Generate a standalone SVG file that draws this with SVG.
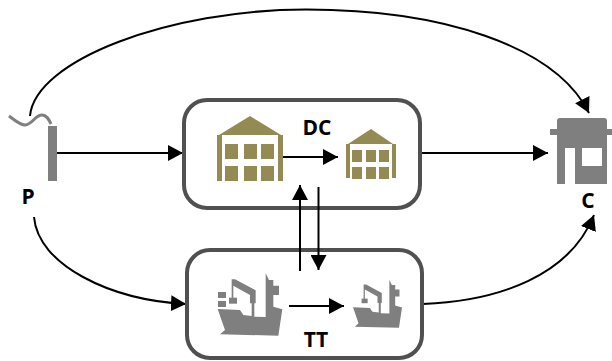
<svg xmlns="http://www.w3.org/2000/svg" width="612" height="361" viewBox="0 0 612 361">
<style>
.box{fill:#fff;stroke:#505050;stroke-width:4}
.gold{fill:#948a54}
.grey{fill:#7f7f7f}
.conn{fill:none;stroke:#000;stroke-width:2}
.lbl{font-family:"Open Sans","DejaVu Sans",sans-serif;font-weight:700;font-size:21px;fill:#000;text-anchor:middle}
</style>
<defs>
<marker id="ah" markerUnits="userSpaceOnUse" markerWidth="16" markerHeight="16" refX="15" refY="8" orient="auto"><path d="M0 0L15 8L0 16Z" fill="#000"/></marker>
<g id="ship">
<path class="grey" d="M38 132L105 135L115 150L140 153V115H135V90L85 62V100H80V43L90 43L152 76V115H148V155L182 156V25L192 45H205V62H222V90H205V125L232 133L220 212L45 208L60 195Z"/>
<rect class="grey" x="72" y="98" width="24" height="18"/>
</g>
</defs>
<g id="connectors">
<path class="conn" d="M30 116C35 60 170 9.500 306 9.500C440 9.500 555 45 589 113" marker-end="url(#ah)"/>
<path class="conn" d="M57 153H183" marker-end="url(#ah)"/>
<path class="conn" d="M34 217C38 265 110 300 186 304" marker-end="url(#ah)"/>
<path class="conn" d="M420 153H548" marker-end="url(#ah)"/>
<path class="conn" d="M423 304C500 301 570 275 594 215" marker-end="url(#ah)"/>
</g>
<g id="P">
<path d="M9 116C16 121 20 125 25 125C32 125 35 115 42 115C47 115 49 120 51 124" fill="none" stroke="#7f7f7f" stroke-width="3"/>
<rect class="grey" x="48" y="126" width="9" height="55"/>
<text class="lbl" x="28" y="204">P</text>
</g>
<g id="DC">
<rect class="box" x="184" y="100" width="236" height="108" rx="23"/>
<path class="gold" d="M250 116L281 135H283V181H278V135H222V181H217V135H219Z"/>
<path class="gold" d="M225 144h13v15h-13zM244 144h13v15h-13zM261 144h13v15h-13zM225 166h13v15h-13zM244 166h13v15h-13zM261 166h13v15h-13z"/>
<path class="gold" d="M371 129L393 144H396V178H392V144H350V178H346V144H348Z"/>
<path class="gold" d="M352 150h10v12h-10zM366 150h10v12h-10zM379 150h10v12h-10zM352 167h10v12h-10zM366 167h10v12h-10zM379 167h10v12h-10z"/>
<path class="conn" d="M283 157H338" marker-end="url(#ah)"/>
<text class="lbl" x="317" y="135">DC</text>
</g>
<g id="TT">
<rect class="box" x="187" y="250" width="235" height="108" rx="23"/>
<use href="#ship" transform="translate(205 265) scale(.3333)"/>
<rect class="grey" x="218" y="292" width="8" height="6"/>
<rect class="grey" x="218" y="301" width="8" height="6"/>
<use href="#ship" transform="translate(343.400 273.600) scale(.2526 .255)"/>
<path class="conn" d="M289 306H344" marker-end="url(#ah)"/>
<text class="lbl" x="316" y="347">TT</text>
</g>
<g id="C">
<path class="grey" d="M560 118H604Q607 118 607 121V129H612V135H607V184H557V135H550V129H557V121Q557 118 560 118Z"/>
<rect x="565" y="148" width="10" height="36" fill="#fff"/>
<rect x="582" y="148" width="20" height="18" fill="#fff"/>
<text class="lbl" x="588" y="208">C</text>
</g>
<g id="vertical-connectors">
<path class="conn" d="M300 271V185" marker-end="url(#ah)"/>
<path class="conn" d="M318.500 187V270" marker-end="url(#ah)"/>
</g>
</svg>
